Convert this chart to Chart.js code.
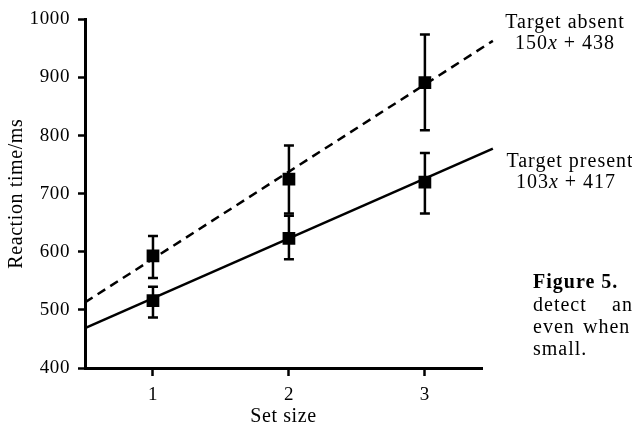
<!DOCTYPE html>
<html>
<head>
<meta charset="utf-8">
<script src="https://cdn.jsdelivr.net/npm/chart.js@4"></script>
<style>
  body { margin: 0; background: #fff; }
  canvas { display: block; }
</style>
</head>
<body>
<canvas id="myChart" width="632" height="429"></canvas>
<script>
// data
var setSize = [1, 2, 3];
var absentMean = [593, 725, 891];
var absentLow = [555, 666, 809];
var absentHigh = [627, 783, 974];
var presentMean = [516, 623, 720];
var presentLow = [487, 587, 666];
var presentHigh = [540, 662, 770];
// fitted lines: slope, intercept
var absentFit = [150, 438];
var presentFit = [103, 417];
var fitRange = [0.5, 3.5];
var yTicks = [400, 500, 600, 700, 800, 900, 1000];
var xTicks = [1, 2, 3];

var serif = "'Liberation Serif', 'DejaVu Serif', serif";

function points(xs, ys) {
  return xs.map(function(x, i) { return { x: x, y: ys[i] }; });
}
function fitLine(fit) {
  return fitRange.map(function(x) { return { x: x, y: fit[0] * x + fit[1] }; });
}

// slightly wider letter spacing, like the printed figure
var spacing = {
  id: 'spacing',
  beforeDraw: function(chart) { chart.ctx.letterSpacing = '0.6px'; }
};

// error bars, drawn through the scales
var errorBars = {
  id: 'errorBars',
  afterDatasetsDraw: function(chart) {
    var ctx = chart.ctx;
    var xs = chart.scales.x, ys = chart.scales.y;
    var sets = [[absentLow, absentHigh], [presentLow, presentHigh]];
    ctx.save();
    ctx.strokeStyle = '#000';
    ctx.lineWidth = 2.5;
    sets.forEach(function(s) {
      setSize.forEach(function(v, i) {
        var px = xs.getPixelForValue(v);
        var lo = ys.getPixelForValue(s[0][i]);
        var hi = ys.getPixelForValue(s[1][i]);
        ctx.beginPath();
        ctx.moveTo(px, lo); ctx.lineTo(px, hi);
        ctx.moveTo(px - 5, lo); ctx.lineTo(px + 5, lo);
        ctx.moveTo(px - 5, hi); ctx.lineTo(px + 5, hi);
        ctx.stroke();
      });
    });
    ctx.restore();
  }
};

// line labels and caption on the right
var notes = {
  id: 'notes',
  afterDraw: function(chart) {
    var ctx = chart.ctx;
    ctx.save();
    ctx.letterSpacing = '1px';
    ctx.fillStyle = '#000';
    ctx.textAlign = 'center';
    ctx.font = '20px ' + serif;
    ctx.fillText('Target absent', 565, 28);
    ctx.fillText('Target present', 570, 167);
    drawFormula(ctx, absentFit, 565, 49);
    drawFormula(ctx, presentFit, 566, 188);
    ctx.textAlign = 'left';
    ctx.font = 'bold 20px ' + serif;
    ctx.fillText('Figure 5.', 533, 288);
    ctx.font = '20px ' + serif;
    ctx.fillText('detect', 533, 311);
    ctx.fillText('an', 612, 311);
    ctx.fillText('even', 533, 333);
    ctx.fillText('when', 583, 333);
    ctx.fillText('small.', 533, 355);
    ctx.restore();
  }
};

function drawFormula(ctx, fit, cx, y) {
  var a = String(fit[0]), b = ' + ' + fit[1];
  ctx.font = '20px ' + serif;
  var wa = ctx.measureText(a).width, wb = ctx.measureText(b).width;
  ctx.font = 'italic 20px ' + serif;
  var wx = ctx.measureText('x').width;
  var x0 = cx - (wa + wx + wb) / 2;
  ctx.textAlign = 'left';
  ctx.font = '20px ' + serif;
  ctx.fillText(a, x0, y);
  ctx.font = 'italic 20px ' + serif;
  ctx.fillText('x', x0 + wa, y);
  ctx.font = '20px ' + serif;
  ctx.fillText(b, x0 + wa + wx, y);
  ctx.textAlign = 'center';
}

var ctx = document.getElementById('myChart').getContext('2d');
var chart = new Chart(ctx, {
  type: 'scatter',
  data: {
    datasets: [
      {
        type: 'line',
        data: fitLine(absentFit),
        borderColor: '#000',
        borderWidth: 2.5,
        borderDash: [9, 6],
        pointRadius: 0,
        clip: false
      },
      {
        type: 'line',
        data: fitLine(presentFit),
        borderColor: '#000',
        borderWidth: 2.5,
        pointRadius: 0,
        clip: false
      },
      {
        data: points(setSize, absentMean),
        pointStyle: 'rect',
        pointRadius: 9,
        backgroundColor: '#000',
        borderColor: '#000',
        borderWidth: 0
      },
      {
        data: points(setSize, presentMean),
        pointStyle: 'rect',
        pointRadius: 9,
        backgroundColor: '#000',
        borderColor: '#000',
        borderWidth: 0
      }
    ]
  },
  options: {
    responsive: false,
    animation: false,
    layout: { padding: { top: 16, right: 150, left: 0, bottom: 0 } },
    plugins: { legend: { display: false }, tooltip: { enabled: false } },
    scales: {
      x: {
        type: 'linear',
        min: 0.5,
        max: 3.42,
        afterBuildTicks: function(scale) {
          scale.ticks = xTicks.map(function(v) { return { value: v }; });
        },
        afterFit: function(scale) { scale.height = 61; },
        border: { color: '#000', width: 3 },
        grid: { drawOnChartArea: false, tickLength: 8, tickColor: '#000', tickWidth: 2.5 },
        ticks: {
          color: '#000', padding: 8, font: { family: serif, size: 19 },
          callback: function(v) { return String(v); }
        },
        title: { display: true, text: 'Set size', color: '#000', padding: 0, font: { family: serif, size: 20 } }
      },
      y: {
        min: 400,
        max: 1000,
        afterBuildTicks: function(scale) {
          scale.ticks = yTicks.map(function(v) { return { value: v }; });
        },
        afterFit: function(scale) { scale.width = 85; },
        border: { color: '#000', width: 3 },
        grid: { drawOnChartArea: false, tickLength: 7, tickColor: '#000', tickWidth: 2.5 },
        ticks: {
          color: '#000', padding: 8, font: { family: serif, size: 19 },
          callback: function(v) { return String(v); }
        },
        title: { display: true, text: 'Reaction time/ms', color: '#000', padding: { top: 5, bottom: 0 }, font: { family: serif, size: 20 } }
      }
    }
  },
  plugins: [spacing, errorBars, notes]
});
</script>
</body>
</html>
